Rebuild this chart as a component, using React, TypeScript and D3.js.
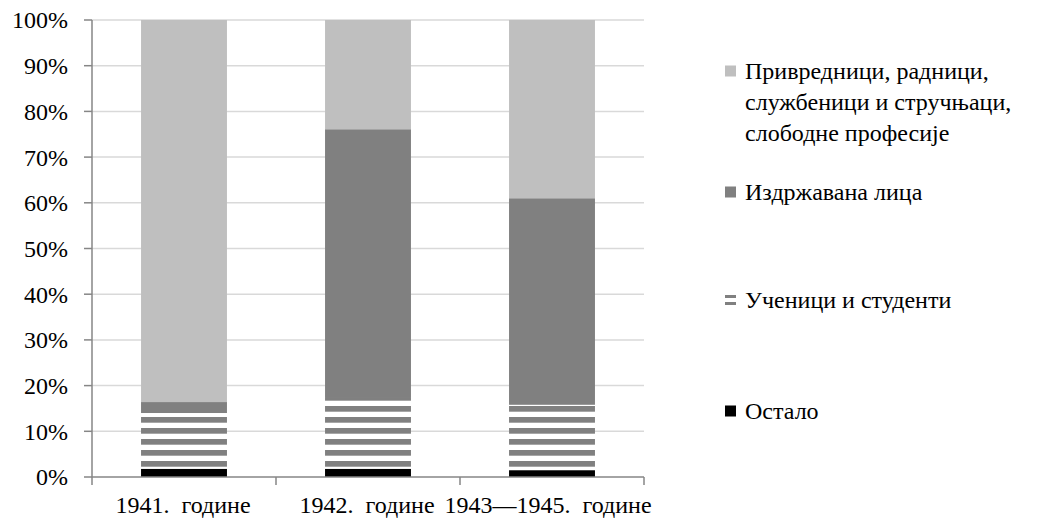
import React from 'react';
import * as d3 from 'd3';

const categories = ['1941.  године', '1942.  године', '1943—1945.  године'];
const ostalo = [1.8, 1.8, 1.5];
const ucenici = [12.2, 15.7, 14.3];
const izdrzavana = [2.4, 58.6, 45.2];
const privrednici = [83.6, 23.9, 39.0];
const yTicks = [0, 10, 20, 30, 40, 50, 60, 70, 80, 90, 100];
const legendLines = [
  ['Привредници, радници,', 'службеници и стручњаци,', 'слободне професије'],
  ['Издржавана лица'],
  ['Ученици и студенти'],
  ['Остало'],
];

const W = 1045, H = 521;
const font = 'Liberation Serif';

const App = () => {
  const margin = { top: 20, left: 92, right: 401, bottom: 44 };
  const x = d3.scaleBand<string>().domain(categories).range([margin.left, W - margin.right]).padding(0);
  const y = d3.scaleLinear().domain([0, 100]).range([H - margin.bottom, margin.top]);
  const barW = x.bandwidth() * 0.467;

  const rows = categories.map((c, i) => ({ cat: c, s0: ostalo[i], s1: ucenici[i], s2: izdrzavana[i], s3: privrednici[i] }));
  const stack = d3.stack<any>().keys(['s0', 's1', 's2', 's3'])(rows);
  const fills = ['#000000', 'url(#stripes)', '#808080', '#BFBFBF'];

  const legendY = [71, 192, 300, 411];
  const legendFill = ['#BFBFBF', '#808080', 'stripes', '#000000'];

  return (
    <div style={{ position: 'absolute', left: 0, top: 0 }}>
      <svg width={W} height={H} style={{ display: 'block', background: '#fff' }}>
        <defs>
          <pattern id="stripes" patternUnits="userSpaceOnUse" x={0} y={417} width={10} height={11}>
            <rect x={0} y={0} width={10} height={11} fill="#fff" />
            <rect x={0} y={0} width={10} height={5.7} fill="#808080" />
          </pattern>
        </defs>
        {yTicks.slice(1).map(t => (
          <line key={t} x1={margin.left} x2={W - margin.right} y1={y(t)} y2={y(t)} stroke="#D9D9D9" strokeWidth={1.5} />
        ))}
        {stack.map((layer, li) => (
          <g key={li}>
            {layer.map((d, i) => (
              <rect key={i}
                x={(x(categories[i]) as number) + (x.bandwidth() - barW) / 2}
                y={y(d[1])}
                width={barW}
                height={y(d[0]) - y(d[1])}
                fill={fills[li]} />
            ))}
          </g>
        ))}
        <line x1={margin.left} x2={margin.left} y1={y(100)} y2={y(0)} stroke="#868686" strokeWidth={1.5} />
        <line x1={margin.left} x2={W - margin.right} y1={y(0)} y2={y(0)} stroke="#868686" strokeWidth={1.5} />
        {yTicks.map(t => (
          <g key={t}>
            <line x1={margin.left - 8} x2={margin.left} y1={y(t)} y2={y(t)} stroke="#868686" strokeWidth={1.5} />
            <text x={68} y={y(t)} dy="0.35em" textAnchor="end" fontFamily={font} fontSize={24}>{t}%</text>
          </g>
        ))}
        {[...categories.map(c => x(c) as number), W - margin.right].map((v, i) => (
          <line key={i} x1={v} x2={v} y1={y(0)} y2={y(0) + 8} stroke="#868686" strokeWidth={1.5} />
        ))}
        {categories.map((c, i) => {
          const cx = (x(c) as number) + x.bandwidth() / 2 - (i === 2 ? 4 : 1);
          return (
            <text key={c} x={cx} y={513} textAnchor="middle" fontFamily={font} fontSize={24}
              style={{ whiteSpace: 'pre' }}>{c}</text>
          );
        })}
        {legendLines.map((lines, i) => (
          <g key={i}>
            {legendFill[i] === 'stripes' ? (
              <g>
                <rect x={725} y={legendY[i] - 5} width={11} height={3} fill="#808080" />
                <rect x={725} y={legendY[i] + 2} width={11} height={3} fill="#808080" />
              </g>
            ) : (
              <rect x={725} y={legendY[i] - 5.5} width={11} height={11} fill={legendFill[i]} />
            )}
            {lines.map((l, j) => (
              <text key={j} x={745} y={legendY[i] + j * 31} dy="0.35em" fontFamily={font} fontSize={24}
                style={{ whiteSpace: 'pre' }}>{l}</text>
            ))}
          </g>
        ))}
      </svg>
    </div>
  );
};

export default App;
